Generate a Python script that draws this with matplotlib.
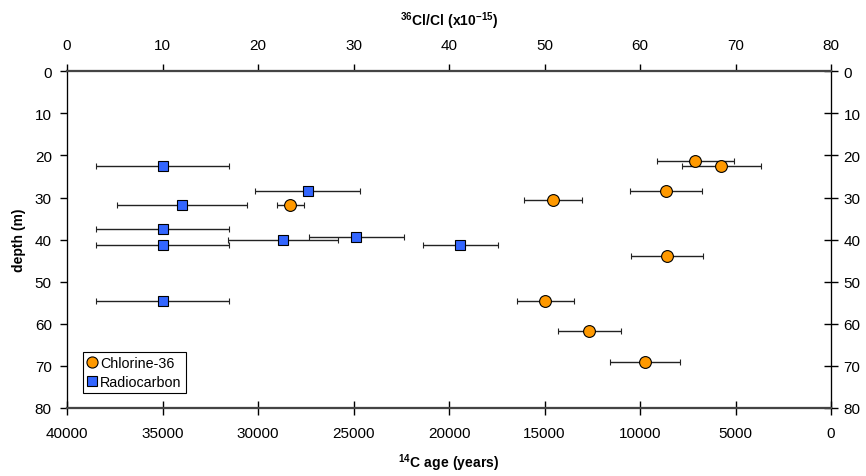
import matplotlib
matplotlib.use('Agg')
import matplotlib.pyplot as plt
from matplotlib.lines import Line2D

plt.rcParams['font.family'] = ['Liberation Sans', 'DejaVu Sans']
plt.rcParams['mathtext.fontset'] = 'custom'
plt.rcParams['mathtext.rm'] = 'Liberation Sans'
plt.rcParams['mathtext.bf'] = 'Liberation Sans:bold'

# Radiocarbon: 14C age (years) vs depth (m)
c14_age = [35000, 27400, 34000, 35000, 28700, 24850, 35000, 19400, 35000]
c14_err = [3500, 2750, 3400, 3500, 2870, 2470, 3500, 1950, 3500]
c14_depth = [22.4, 28.4, 31.7, 37.4, 40.0, 39.3, 41.3, 41.3, 54.6]

# Chlorine-36: 36Cl/Cl (x10^-15) vs depth (m)
cl_ratio = [65.8, 68.5, 62.7, 23.4, 50.9, 62.8, 50.1, 54.7, 60.5]
cl_err = [4.0, 4.15, 3.75, 1.4, 3.05, 3.75, 3.0, 3.3, 3.65]
cl_depth = [21.4, 22.4, 28.4, 31.7, 30.5, 43.9, 54.6, 61.8, 69.1]

orange = '#FF9900'
blue = '#3366FF'

fig = plt.figure(figsize=(8.66, 4.77), dpi=100)
ax = fig.add_axes([0.0774, 0.1426, 0.8822, 0.7058])

ax.errorbar(c14_age, c14_depth, xerr=c14_err, fmt='s', color='black', ecolor='#222222',
            elinewidth=1, capsize=2.5, capthick=1, markersize=7.5,
            markerfacecolor=blue, markeredgecolor='black', markeredgewidth=0.8, zorder=3)
ax.set_xlim(40000, 0)
ax.set_ylim(80, 0)
ax.set_xticks(range(40000, -1, -5000))
ax.set_yticks(range(0, 81, 10))
ax.tick_params(axis='x', direction='inout', length=10, width=1, labelsize=11, pad=8)
ax.tick_params(axis='y', direction='out', length=5, width=1, labelsize=11, pad=6)
ax.set_xlabel(r'$\mathbf{^{14}C\ age\ (years)}$', fontsize=10, labelpad=8)
ax.set_ylabel('depth (m)', fontsize=10, fontweight='bold', labelpad=6)

# right-hand depth axis
axr = ax.twinx()
axr.set_ylim(80, 0)
axr.set_yticks(range(0, 81, 10))
axr.tick_params(axis='y', direction='inout', length=10, width=1, labelsize=11, pad=4)

ax2 = ax.twiny()
ax2.errorbar(cl_ratio, cl_depth, xerr=cl_err, fmt='o', color='black', ecolor='#222222',
             elinewidth=1, capsize=2.5, capthick=1, markersize=8.5,
             markerfacecolor=orange, markeredgecolor='black', markeredgewidth=0.8, zorder=3)
ax2.set_xlim(0, 80)
ax2.set_xticks(range(0, 81, 10))
ax2.tick_params(axis='x', direction='out', length=5, width=1, labelsize=11, pad=9)
ax2.set_xlabel(r'$\mathbf{^{36}Cl/Cl\ (x10^{-15})}$', fontsize=10, labelpad=9)

for a in (ax, axr, ax2):
    a.spines['top'].set_color('#444444')
    a.spines['bottom'].set_color('#444444')
    a.spines['top'].set_linewidth(1.5)
    a.spines['bottom'].set_linewidth(1.5)
    a.spines['left'].set_color('black')
    a.spines['right'].set_color('black')

handles = [
    Line2D([], [], marker='o', linestyle='none', markersize=8, markerfacecolor=orange,
           markeredgecolor='black', markeredgewidth=0.8),
    Line2D([], [], marker='s', linestyle='none', markersize=7, markerfacecolor=blue,
           markeredgecolor='black', markeredgewidth=0.8),
]
leg = ax2.legend(handles, ['Chlorine-36', 'Radiocarbon'], loc='lower left',
                 bbox_to_anchor=(0.021, 0.045), borderaxespad=0, fontsize=10.3,
                 frameon=True, fancybox=False, edgecolor='black', framealpha=1,
                 handlelength=0.6, handletextpad=0.3, borderpad=0.3, labelspacing=0.3)
leg.get_frame().set_linewidth(0.8)

fig.savefig('out.png', dpi=100)
